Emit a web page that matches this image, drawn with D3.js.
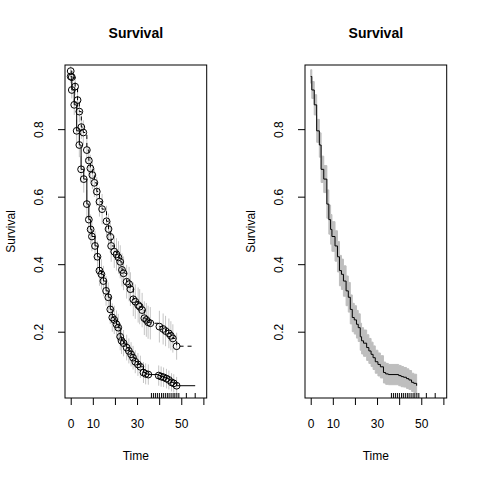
<!DOCTYPE html>
<html>
<head>
<meta charset="utf-8">
<title>Survival</title>
<script src="https://cdn.jsdelivr.net/npm/d3@7"></script>
<style>
  body { margin: 0; background: #fff; }
  svg { display: block; font-family: "Liberation Sans", Arial, sans-serif; }
</style>
</head>
<body>
<svg id="chart" width="480" height="480"></svg>
<script>
// lower curve (also the one in the right panel)
const timesA = [0, 0.5, 1.6, 2.7, 3.9, 4.7, 5.9, 7.3, 8.2, 9.0,
  9.6, 11.0, 12.1, 13.0, 13.9, 14.8, 16.0, 17.0, 17.9, 18.8,
  19.7, 20.7, 21.5, 22.4, 23.0, 23.9, 25.3, 26.3, 27.3, 28.2,
  29.2, 30.4, 31.5, 32.9, 33.9, 35.1, 39.8, 40.9, 42.0, 43.3,
  44.4, 45.6, 46.6, 47.9];
const survA = [0.956, 0.916, 0.872, 0.795, 0.753, 0.681, 0.652, 0.578, 0.532, 0.503,
  0.482, 0.454, 0.422, 0.381, 0.370, 0.350, 0.321, 0.302, 0.266, 0.242,
  0.235, 0.222, 0.212, 0.185, 0.173, 0.166, 0.153, 0.143, 0.133, 0.123,
  0.111, 0.103, 0.096, 0.079, 0.075, 0.073, 0.070, 0.067, 0.065, 0.061,
  0.057, 0.050, 0.047, 0.040];
const ciA = [0.02, 0.025, 0.03, 0.034, 0.036, 0.039, 0.04, 0.042, 0.043, 0.044,
  0.044, 0.045, 0.045, 0.045, 0.045, 0.045, 0.044, 0.044, 0.043, 0.042,
  0.042, 0.041, 0.041, 0.04, 0.039, 0.039, 0.038, 0.037, 0.036, 0.035,
  0.034, 0.034, 0.033, 0.031, 0.031, 0.03, 0.03, 0.03, 0.029, 0.029,
  0.028, 0.027, 0.027, 0.026];

// upper curve (dashed)
const timesB = [0, 0.5, 2.0, 3.1, 3.9, 4.8, 5.7, 7.3, 8.2, 8.9,
  9.8, 10.7, 11.8, 13.0, 14.2, 16.2, 17.1, 17.9, 18.3, 19.7,
  20.7, 21.6, 22.4, 23.2, 23.9, 25.3, 26.4, 27.0, 28.3, 29.2,
  30.5, 31.2, 32.3, 33.3, 34.2, 35.0, 36.0, 40.1, 41.8, 42.9,
  44.4, 45.3, 46.2, 47.9];
const survB = [0.972, 0.954, 0.926, 0.886, 0.852, 0.806, 0.790, 0.738, 0.707, 0.684,
  0.664, 0.641, 0.615, 0.585, 0.563, 0.527, 0.504, 0.481, 0.454, 0.437,
  0.429, 0.420, 0.407, 0.383, 0.373, 0.348, 0.341, 0.326, 0.296, 0.289,
  0.279, 0.274, 0.264, 0.240, 0.235, 0.228, 0.225, 0.215, 0.208, 0.202,
  0.195, 0.188, 0.180, 0.157];
const ciB = [0.015, 0.02, 0.025, 0.03, 0.032, 0.035, 0.036, 0.038, 0.04, 0.04,
  0.041, 0.042, 0.043, 0.044, 0.045, 0.046, 0.046, 0.047, 0.047, 0.048,
  0.048, 0.048, 0.049, 0.049, 0.05, 0.05, 0.051, 0.05, 0.05, 0.051,
  0.052, 0.052, 0.051, 0.05, 0.05, 0.049, 0.048, 0.047, 0.046, 0.045,
  0.044, 0.043, 0.042, 0.04];

const censorTimes = [36.5, 37.4, 38.3, 39.2, 40.1, 41.1, 41.9, 42.8, 43.7, 44.5,
  45.4, 46.3, 47.1, 48.0, 48.9, 52.3, 56.3];
const lastTime = 56.3;

const xTicks = [0, 10, 20, 30, 40, 50, 60];
const xTickLabels = ["0", "10", "", "30", "", "50", ""];
const yTicks = [0.2, 0.4, 0.6, 0.8];
const yTickLabels = ["0.2", "0.4", "0.6", "0.8"];

const titleText = "Survival";
const xLabel = "Time";
const yLabel = "Survival";

const svg = d3.select('#chart');
const box = {left: 65, right: 206.7, top: 65, bottom: 398};

const x = d3.scaleLinear().domain([-2.58, 61.5]).range([box.left, box.right]);
const y = d3.scaleLinear().domain([0.0036, 0.99]).range([box.bottom, box.top]);

const ptsA = timesA.map((t, i) => ({t: t, s: survA[i], lo: survA[i] - ciA[i], hi: survA[i] + ciA[i]}));
const ptsB = timesB.map((t, i) => ({t: t, s: survB[i], lo: survB[i] - ciB[i], hi: survB[i] + ciB[i]}));

const stepLine = d3.line().curve(d3.curveStepAfter).x(d => x(d.t)).y(d => y(d.s));

function frame(g) {
    const cx = (box.left + box.right) / 2;

    // x axis
    g.append('g')
        .attr('transform', `translate(0,${box.bottom})`)
        .call(d3.axisBottom(x).tickValues(xTicks)
            .tickFormat((d, i) => xTickLabels[i])
            .tickSize(7).tickPadding(14))
        .call(a => a.select('.domain').remove())
        .call(a => a.selectAll('line').attr('stroke', '#000'))
        .call(a => a.selectAll('text')
            .attr('font-size', 12)
            .attr('font-family', '"Liberation Sans", Arial, sans-serif')
            .attr('fill', '#000'));

    // y axis, labels turned like R's
    g.append('g')
        .attr('transform', `translate(${box.left},0)`)
        .call(d3.axisLeft(y).tickValues(yTicks)
            .tickFormat((d, i) => yTickLabels[i])
            .tickSize(7))
        .call(a => a.select('.domain').remove())
        .call(a => a.selectAll('line').attr('stroke', '#000'))
        .call(a => a.selectAll('text')
            .attr('transform', 'rotate(-90)')
            .attr('x', 0)
            .attr('y', -(box.left - 43.3))
            .attr('dy', 0)
            .attr('text-anchor', 'middle')
            .attr('font-size', 12)
            .attr('font-family', '"Liberation Sans", Arial, sans-serif')
            .attr('fill', '#000'));

    // rug of censored times
    g.append('g').selectAll('line')
        .data(censorTimes)
        .enter()
        .append('line')
        .attr('x1', d => x(d)).attr('x2', d => x(d))
        .attr('y1', box.bottom).attr('y2', box.bottom - 5)
        .attr('stroke', '#000').attr('stroke-width', 1);

    g.append('rect')
        .attr('x', box.left).attr('y', box.top)
        .attr('width', box.right - box.left)
        .attr('height', box.bottom - box.top)
        .attr('fill', 'none').attr('stroke', '#000').attr('stroke-width', 1);

    g.append('text')
        .attr('x', cx).attr('y', 38.3)
        .attr('text-anchor', 'middle')
        .attr('font-weight', 'bold')
        .attr('font-size', 14)
        .text(titleText);

    g.append('text')
        .attr('x', cx).attr('y', 460)
        .attr('text-anchor', 'middle')
        .attr('font-size', 12)
        .text(xLabel);

    g.append('text')
        .attr('transform', `translate(15,${(box.top + box.bottom) / 2}) rotate(-90)`)
        .attr('text-anchor', 'middle')
        .attr('font-size', 12)
        .text(yLabel);
}

// left panel: two curves with circles and CI bars
const left = svg.append('g');

[ptsA, ptsB].forEach(pts => {
    left.append('g').selectAll('line')
        .data(pts)
        .enter()
        .append('line')
        .attr('x1', d => x(d.t)).attr('x2', d => x(d.t))
        .attr('y1', d => y(d.lo)).attr('y2', d => y(d.hi))
        .attr('stroke', '#c4c4c4').attr('stroke-width', 1);
});

left.append('path')
    .datum(ptsA.concat([{t: lastTime, s: survA[survA.length - 1]}]))
    .attr('d', stepLine)
    .attr('fill', 'none').attr('stroke', '#000').attr('stroke-width', 1);

left.append('path')
    .datum(ptsB.concat([{t: lastTime, s: survB[survB.length - 1]}]))
    .attr('d', stepLine)
    .attr('fill', 'none').attr('stroke', '#000').attr('stroke-width', 1)
    .attr('stroke-dasharray', '4,4');

[ptsA, ptsB].forEach(pts => {
    left.append('g').selectAll('circle')
        .data(pts)
        .enter()
        .append('circle')
        .attr('cx', d => x(d.t)).attr('cy', d => y(d.s))
        .attr('r', 3.4)
        .attr('fill', 'none').attr('stroke', '#000').attr('stroke-width', 1);
});

frame(left);

// right panel: step curve with shaded band
const right = svg.append('g').attr('transform', 'translate(240,0)');

const band = d3.area().curve(d3.curveStepAfter)
    .x(d => x(d.t)).y0(d => y(d.lo)).y1(d => y(d.hi));

right.append('path')
    .datum(ptsA)
    .attr('d', band)
    .attr('fill', '#bebebe').attr('stroke', '#bebebe').attr('stroke-width', 1);

right.append('path')
    .datum(ptsA)
    .attr('d', stepLine)
    .attr('fill', 'none').attr('stroke', '#000').attr('stroke-width', 1);

frame(right);
</script>
</body>
</html>
